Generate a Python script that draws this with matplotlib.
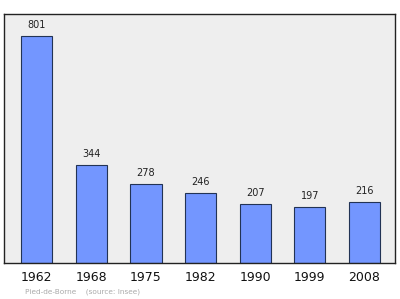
import matplotlib
matplotlib.use("Agg")
import matplotlib.pyplot as plt

years = ["1962", "1968", "1975", "1982", "1990", "1999", "2008"]
population = [801, 344, 278, 246, 207, 197, 216]

fig = plt.figure(figsize=(4, 2.99), dpi=100)
ax = fig.add_axes([4/400, (299-263)/299, (395-4)/400, (263-13.5)/299])
ax.set_facecolor("#eeeeee")
x = list(range(len(years)))
ax.bar(x, population, width=0.57, color="#7396ff", edgecolor="#223355", linewidth=0.8, zorder=2)
for xi, v in zip(x, population):
    ax.annotate(str(v), (xi, v), xytext=(0, 4.5), textcoords="offset points",
                ha="center", va="bottom", fontsize=7, color="#222222")
ax.set_xlim(-0.6, 6.56)
ax.set_ylim(0, 880)
ax.set_yticks([])
ax.set_xticks(x)
ax.set_xticklabels(years, fontsize=9, color="#111111")
ax.tick_params(axis="x", length=0, pad=6)
for s in ax.spines.values():
    s.set_color("#222222")
    s.set_linewidth(1.0)
fig.text(25/400, 1 - 292/299, "Pied-de-Borne    (source: Insee)", fontsize=5.3, color="#aaaaaa",
         ha="left", va="center")
fig.savefig("out.png", dpi=100)
